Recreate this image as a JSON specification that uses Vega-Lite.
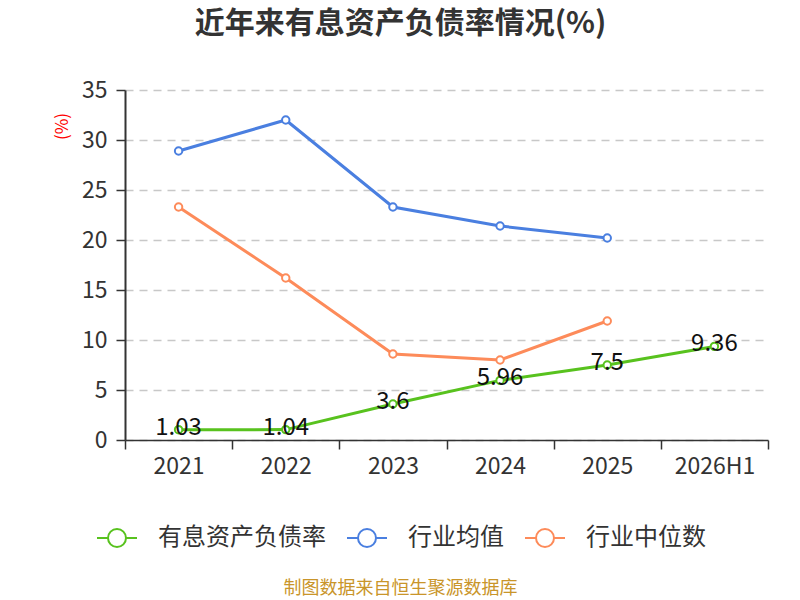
{
  "$schema": "https://vega.github.io/schema/vega-lite/v6.json",
  "width": 643,
  "height": 350,
  "autosize": {"type": "none"},
  "padding": {"left": 125, "top": 90, "right": 32, "bottom": 160},
  "background": "white",
  "title": {
    "text": "近年来有息资产负债率情况(%)",
    "font": "Noto Sans CJK SC",
    "fontSize": 30,
    "fontWeight": "bold",
    "color": "#333333",
    "anchor": "middle",
    "dx": -46,
    "offset": 40
  },
  "data": {
    "values": [
      {"year": "2021", "series": "有息资产负债率", "value": 1.03},
      {"year": "2022", "series": "有息资产负债率", "value": 1.04},
      {"year": "2023", "series": "有息资产负债率", "value": 3.6},
      {"year": "2024", "series": "有息资产负债率", "value": 5.96},
      {"year": "2025", "series": "有息资产负债率", "value": 7.5},
      {"year": "2026H1", "series": "有息资产负债率", "value": 9.36},
      {"year": "2021", "series": "行业均值", "value": 28.9},
      {"year": "2022", "series": "行业均值", "value": 32.0},
      {"year": "2023", "series": "行业均值", "value": 23.3},
      {"year": "2024", "series": "行业均值", "value": 21.4},
      {"year": "2025", "series": "行业均值", "value": 20.2},
      {"year": "2021", "series": "行业中位数", "value": 23.3},
      {"year": "2022", "series": "行业中位数", "value": 16.2},
      {"year": "2023", "series": "行业中位数", "value": 8.6},
      {"year": "2024", "series": "行业中位数", "value": 8.0},
      {"year": "2025", "series": "行业中位数", "value": 11.9}
    ]
  },
  "encoding": {
    "x": {
      "field": "year",
      "type": "nominal",
      "sort": null,
      "scale": {
        "type": "band",
        "domain": ["2021", "2022", "2023", "2024", "2025", "2026H1"],
        "paddingInner": 0,
        "paddingOuter": 0
      },
      "axis": {
        "title": "制图数据来自恒生聚源数据库",
        "titleColor": "#c9952a",
        "titleFont": "Noto Sans CJK SC",
        "titleFontSize": 18,
        "titleFontWeight": "normal",
        "titleX": 275,
        "titleY": 148,
        "titleBaseline": "middle",
        "labelAngle": 0,
        "labelFontSize": 23,
        "labelColor": "#333333",
        "labelPadding": 6,
        "tickBand": "extent",
        "tickSize": 9,
        "tickColor": "#333333",
        "tickWidth": 1.5,
        "domainColor": "#333333",
        "domainWidth": 1.5,
        "grid": false
      }
    },
    "y": {
      "field": "value",
      "type": "quantitative",
      "scale": {"domain": [0, 35], "nice": false},
      "axis": {
        "title": "(%)",
        "titleColor": "#ff0000",
        "titleFont": "Noto Sans CJK SC",
        "titleFontSize": 17,
        "titleFontWeight": "normal",
        "titleX": -63,
        "titleY": 36,
        "titleBaseline": "middle",
        "titleAlign": "center",
        "values": [0, 5, 10, 15, 20, 25, 30, 35],
        "labelFontSize": 23,
        "labelColor": "#333333",
        "labelPadding": 9,
        "tickSize": 9,
        "tickColor": "#333333",
        "tickWidth": 1.5,
        "domainColor": "#333333",
        "domainWidth": 2,
        "grid": true,
        "gridColor": "#c8c8c8",
        "gridDash": [8, 6],
        "gridWidth": 1.5
      }
    },
    "color": {
      "field": "series",
      "type": "nominal",
      "scale": {
        "domain": ["有息资产负债率", "行业均值", "行业中位数"],
        "range": ["#58c21e", "#4a7fe0", "#fd8b5a"]
      },
      "legend": {
        "title": null,
        "orient": "none",
        "direction": "horizontal",
        "legendX": -29,
        "legendY": 427,
        "symbolType": "M-1,0L-0.45,0M0.45,0A0.45,0.45 0 1,1 -0.45,0A0.45,0.45 0 1,1 0.45,0M0.45,0L1,0",
        "symbolSize": 1600,
        "symbolStrokeWidth": 2,
        "symbolFillColor": "white",
        "labelFont": "Noto Sans CJK SC",
        "labelFontSize": 24,
        "labelColor": "#333333",
        "labelOffset": 20,
        "labelLimit": 300,
        "columnPadding": 17
      }
    }
  },
  "layer": [
    {
      "mark": {"type": "line", "strokeWidth": 3}
    },
    {
      "mark": {"type": "point", "shape": "circle", "filled": false, "fill": "white", "fillOpacity": 1, "size": 55, "strokeWidth": 2, "opacity": 1}
    },
    {
      "transform": [{"filter": "datum.series === '有息资产负债率'"}],
      "mark": {"type": "text", "font": "Noto Sans CJK SC", "fontSize": 24, "color": "#111111", "baseline": "middle", "dy": -2},
      "encoding": {
        "text": {"field": "value", "type": "quantitative"},
        "color": {"value": "#111111"}
      }
    }
  ],
  "config": {
    "view": {"stroke": null},
    "font": "Noto Sans CJK SC"
  }
}
